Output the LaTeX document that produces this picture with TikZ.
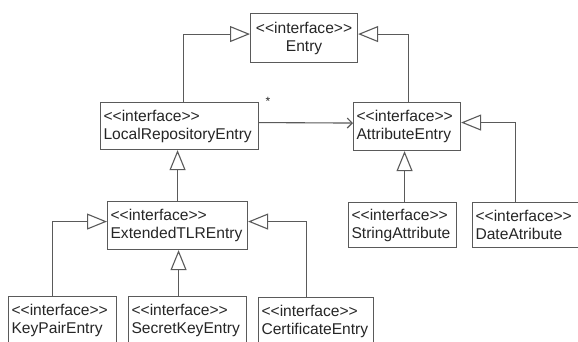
\documentclass[tikz,border=0pt]{standalone}
\usepackage{fontspec}
\setmainfont{Liberation Sans}
\usetikzlibrary{arrows.meta}
\definecolor{linegray}{HTML}{5A5A5A}
\definecolor{textgray}{HTML}{262626}
\tikzset{
  umlbox/.style={draw=linegray, line width=1.1pt, anchor=north west, align=left,
    inner xsep=3pt, inner ysep=0pt, text=textgray,
    font=\fontsize{15.6pt}{18pt}\selectfont},
  gen/.style={draw=linegray, line width=1.1pt, -{Triangle[open, length=20pt, width=16pt]}},
  assoc/.style={draw=linegray, line width=1.1pt, -{Straight Barb[length=5pt, width=10pt]}}
}
\begin{document}
\begin{tikzpicture}[x=1pt, y=-1pt]
\useasboundingbox (0,0) rectangle (578,341);
\fill[white] (0,0) rectangle (578,341);
\begin{scope}
\clip (0,0) rectangle (578,341);
\node[umlbox, align=center, text width=101pt, minimum height=49pt] (entry) at (250,13) {<{}<interface>{}>\\Entry};
\node[umlbox, text width=152pt, minimum height=47pt] (lre) at (100,102) {<{}<interface>{}>\\LocalRepositoryEntry};
\node[umlbox, text width=101pt, minimum height=48pt] (attr) at (353,102) {<{}<interface>{}>\\AttributeEntry};
\node[umlbox, text width=134pt, minimum height=48pt] (ext) at (107,201) {<{}<interface>{}>\\ExtendedTLREntry};
\node[umlbox, text width=102pt, minimum height=45pt] (str) at (348,202) {<{}<interface>{}>\\StringAttribute};
\node[umlbox, text width=100pt, minimum height=45pt] (date) at (472,202) {<{}<interface>{}>\\DateAtribute};
\node[umlbox, text width=102pt, minimum height=48pt] (kp) at (8,296) {<{}<interface>{}>\\KeyPairEntry};
\node[umlbox, text width=112pt, minimum height=48pt] (sk) at (128,296) {<{}<interface>{}>\\SecretKeyEntry};
\node[umlbox, text width=109pt, minimum height=48pt] (cert) at (258,297) {<{}<interface>{}>\\CertificateEntry};

\draw[gen] ([xshift=4pt]lre.north) |- ([yshift=4pt]entry.west);
\draw[gen] ([xshift=1.5pt]attr.north) |- ([yshift=4pt]entry.east);
\draw[assoc] ([yshift=3.5pt]lre.east) -- ([yshift=3.5pt]attr.west);
\node[text=textgray, font=\fontsize{12pt}{12pt}\selectfont, inner sep=0pt] (star) at (268,101) {*};
\draw[gen] (ext.north) -- (ext.north |- lre.south);
\draw[gen] ([xshift=2pt]str.north) -- ([xshift=2pt]str.north |- attr.south);
\draw[gen] ([xshift=-10pt]date.north) |- ([yshift=4pt]attr.east);
\draw[gen] ([xshift=-10pt]kp.north) |- ([yshift=4pt]ext.west);
\draw[gen] ([xshift=1pt]ext.south |- sk.north) -- ([xshift=1pt]ext.south);
\draw[gen] ([xshift=-10pt]cert.north) |- ([yshift=4pt]ext.east);
\end{scope}
\end{tikzpicture}
\end{document}
